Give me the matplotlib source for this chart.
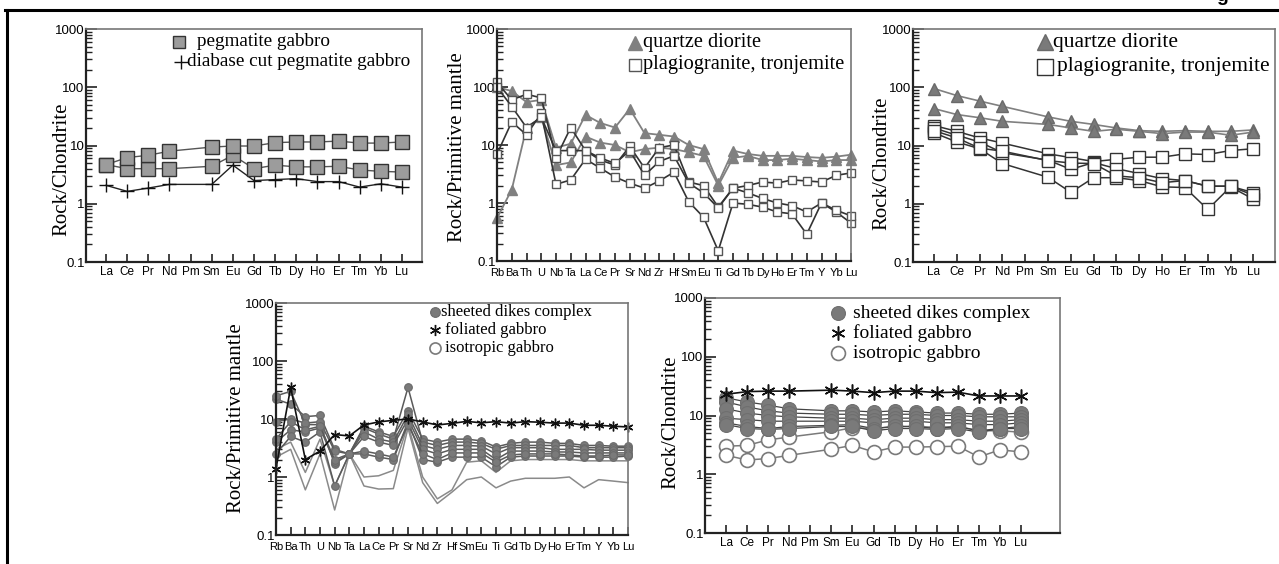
import matplotlib
matplotlib.use("Agg")
import matplotlib.pyplot as plt
from matplotlib.lines import Line2D

W, H = 1279, 564

# ---- element lists ----
ree = ["La", "Ce", "Pr", "Nd", "Pm", "Sm", "Eu", "Gd", "Tb", "Dy", "Ho", "Er", "Tm", "Yb", "Lu"]
spider = ["Rb", "Ba", "Th", "U", "Nb", "Ta", "La", "Ce", "Pr", "Sr", "Nd", "Zr", "Hf",
          "Sm", "Eu", "Ti", "Gd", "Tb", "Dy", "Ho", "Er", "Tm", "Y", "Yb", "Lu"]
ree_x = [i for i, e in enumerate(ree) if e != "Pm"]   # Pm has no data

# ---- panel 1: pegmatite gabbro (chondrite normalised, no Pm) ----
peg_gabbro_1 = [4.7, 6.2, 6.8, 8.0, 9.4, 9.8, 9.8, 11.2, 11.5, 11.5, 11.9, 11.0, 11.0, 11.5]
peg_gabbro_2 = [4.7, 4.0, 4.0, 4.0, 4.4, 6.8, 4.0, 4.6, 4.3, 4.3, 4.4, 3.8, 3.6, 3.5]
diabase_cut = [2.07, 1.63, 1.86, 2.15, 2.15, 4.6, 2.5, 2.6, 2.7, 2.4, 2.4, 1.93, 2.2, 1.93]

# ---- panel 2: quartz diorite / plagiogranite (primitive mantle) ----
qd_pm_1 = [100, 85, 55, 60, 9, 10.5, 33, 24, 20, 42, 16, 15, 14, 10, 8.5, 2.2, 8, 7, 6.5, 6.5, 6.5, 6.2, 6, 6.3, 6.8]
qd_pm_2 = [0.55, 1.7, 20, 30, 4.5, 5, 14, 11, 10, 7.5, 8.5, 9, 8.5, 7.5, 6.5, 2.0, 6, 6.5, 5.5, 5.5, 5.8, 5.5, 5.2, 5.5, 5.5]
pg_pm_1 = [120, 60, 75, 65, 6, 20, 8, 5.5, 4.5, 9.5, 4, 9, 10, 2.3, 2.0, 0.85, 1.8, 2.0, 2.3, 2.2, 2.5, 2.4, 2.3, 3.0, 3.3]
pg_pm_2 = [7, 25, 15, 35, 2.1, 2.5, 5.7, 4, 2.8, 2.2, 1.8, 2.4, 3.4, 1.05, 0.57, 0.15, 1.0, 0.95, 0.85, 0.7, 0.65, 0.29, 1.0, 0.7, 0.45]
pg_pm_3 = [100, 46, 20, 30, 8, 8, 8, 6, 4.8, 8, 3, 5.2, 6.5, 2.2, 1.5, 0.82, 1.8, 1.5, 1.2, 1.0, 0.9, 0.7, 1.0, 0.75, 0.6]

# ---- panel 3: quartz diorite / plagiogranite (chondrite) ----
qd_ch_1 = [95, 72, 58, 47, 31, 26, 23, 20, 18, 17.5, 18, 17.5, 17.5, 18.5]
qd_ch_2 = [43, 34, 30, 26, 23, 20, 17.5, 19, 17.5, 16, 17, 17, 15, 17]
pg_ch_1 = [22, 17.5, 13.5, 11, 7.2, 6.2, 5.3, 5.8, 6.3, 6.3, 7.2, 7.0, 8.2, 8.8]
pg_ch_2 = [16.5, 11.5, 8.8, 4.9, 2.85, 1.57, 2.8, 2.8, 2.5, 1.95, 1.9, 0.8, 1.95, 1.2]
pg_ch_3 = [20, 15, 11.5, 7.5, 5.6, 3.9, 5.1, 4.0, 3.3, 2.7, 2.5, 2.0, 2.0, 1.55]
pg_ch_4 = [18, 13.5, 9.0, 8.0, 5.5, 5.0, 4.9, 3.0, 2.8, 2.3, 2.5, 2.0, 2.0, 1.4]

# ---- panel 4: sheeted dikes / gabbros (primitive mantle) ----
fol_pm = [1.4, 35, 2.0, 2.8, 5.4, 5.1, 7.9, 8.9, 9.5, 10, 8.9, 7.9, 8.4, 9.1, 8.6, 9.0, 8.5, 9.0, 8.8, 8.5, 8.5, 7.8, 7.8, 7.5, 7.3]
dike_pm_1 = [22, 18, 11, 11.5, 3, 2.5, 7.5, 6, 5, 14, 4.5, 4, 4.5, 4.5, 4.2, 3.3, 3.8, 4, 4, 3.8, 3.8, 3.5, 3.5, 3.4, 3.4]
dike_pm_2 = [25, 30, 8, 8, 1.7, 2.5, 7, 5.5, 4.5, 35, 4, 3.5, 4, 4, 3.8, 3, 3.5, 3.5, 3.5, 3.5, 3.5, 3.2, 3.2, 3.2, 3.2]
dike_pm_3 = [9, 10, 8.5, 9, 2.8, 2.5, 6, 4.5, 4, 12, 3.5, 3, 3.5, 3.5, 3.4, 2.5, 3.2, 3.2, 3.2, 3.0, 3.0, 3.0, 2.9, 2.9, 2.9]
dike_pm_4 = [4, 6.5, 6, 7, 1.8, 2.5, 5, 4, 3.5, 10, 3, 2.5, 3, 3, 3, 2, 2.8, 2.8, 2.8, 2.7, 2.7, 2.6, 2.6, 2.6, 2.6]
dike_pm_5 = [2.5, 5, 4, 6, 0.7, 2.5, 2.5, 2.2, 2, 9, 2, 1.8, 2.2, 2.2, 2.2, 1.5, 2.2, 2.3, 2.3, 2.3, 2.3, 2.2, 2.2, 2.2, 2.3]
dike_pm_6 = [4.5, 9, 6.5, 7.5, 2, 2.5, 2.8, 2.5, 2.2, 8, 2.5, 2, 2.6, 2.6, 2.6, 1.8, 2.4, 2.5, 2.5, 2.5, 2.4, 2.3, 2.3, 2.4, 2.4]
iso_pm_1 = [2.2, 3, 0.6, 2.5, 0.27, 2.5, 0.7, 0.62, 0.63, 7, 0.8, 0.35, 0.55, 0.9, 1.0, 0.65, 0.85, 0.95, 0.95, 0.95, 1.0, 0.65, 0.9, 0.85, 0.8]
iso_pm_2 = [3, 4, 1.2, 4.5, 0.7, 2.5, 1.0, 1.05, 1.3, 8, 1.0, 0.42, 0.6, 1.8, 1.9, 1.2, 1.9, 2, 2, 2.0, 2, 1.9, 1.9, 1.9, 1.9]

# ---- panel 5: sheeted dikes / gabbros (chondrite) ----
fol_ch = [23, 25.5, 26, 26, 27, 26, 24.5, 26, 26, 24.5, 25, 21.5, 21.5, 21.5]
dike_ch_1 = [20, 17, 15, 13, 12, 12, 11.5, 12, 11.5, 11, 11, 10.5, 10.5, 11]
dike_ch_2 = [17, 14, 12, 11, 10.5, 10.5, 10, 10.5, 10.5, 10, 10, 9.5, 9.5, 9.5]
dike_ch_3 = [13, 11, 10, 9.5, 9, 9, 8.5, 9, 9, 8.5, 8.5, 8, 8, 8.5]
dike_ch_4 = [9, 8.5, 8, 8, 8, 8, 7.5, 8, 8, 7.5, 7.5, 7, 7, 7.5]
dike_ch_5 = [7.5, 6.5, 6, 6.5, 6.8, 7, 6, 6.5, 6.5, 6, 6.5, 5.5, 6, 6.5]
dike_ch_6 = [7, 6, 5.8, 6, 6.5, 6.5, 5.5, 6, 6, 5.8, 6, 5.2, 6, 6]
iso_ch_1 = [3.0, 3.1, 3.85, 4.3, 5.3, 6.2, 6.0, 6.5, 6.5, 6.3, 6.5, 5.5, 5.5, 5.2]
iso_ch_2 = [2.1, 1.75, 1.85, 2.1, 2.67, 3.1, 2.4, 2.9, 2.9, 2.95, 3.0, 1.97, 2.6, 2.4]

SERIF = ["Liberation Serif", "DejaVu Serif"]
SANS = ["Liberation Sans", "DejaVu Sans"]
DARK = "#222222"


def px_axes(fig, left, top, right, bottom):
    return fig.add_axes([left / W, 1 - bottom / H, (right - left) / W, (bottom - top) / H])


def style_axes(ax, labels, xlim, ylabel, label_xy, tick_size, xpad=3):
    ax.set_yscale("log")
    ax.set_ylim(0.1, 1000)
    ax.set_xlim(*xlim)
    ax.set_yticks([0.1, 1, 10, 100, 1000])
    ax.set_yticklabels(["0.1", "1", "10", "100", "1000"], family=SANS, fontsize=9.5)
    ax.set_xticks(range(len(labels)))
    ax.set_xticklabels(labels, family=SANS, fontsize=tick_size)
    ax.tick_params(axis="y", which="major", direction="in", length=8, width=1.2, color=DARK, pad=1)
    ax.tick_params(axis="y", which="minor", direction="in", length=4, width=1.0, color=DARK)
    ax.tick_params(axis="x", which="major", direction="in", length=6, width=1.2, color=DARK, pad=xpad)
    ax.tick_params(axis="x", which="minor", bottom=False)
    for side in ("left", "bottom"):
        ax.spines[side].set_color(DARK)
        ax.spines[side].set_linewidth(1.6)
    for side in ("top", "right"):
        ax.spines[side].set_color("#777777")
        ax.spines[side].set_linewidth(1.2)
    ax.set_ylabel(ylabel, family=SERIF, fontsize=15)
    ax.yaxis.set_label_coords(*label_xy)


def legend_rows(ax, rows, size):
    # rows: (marker kwargs, label, marker x, text x, y) in page pixels
    for mk, text, mx, tx, y in rows:
        ax.plot([mx / W], [1 - y / H], transform=fig.transFigure, ls="none",
                clip_on=False, **mk)
        ax.text(tx / W, 1 - y / H, text, transform=fig.transFigure, family=SERIF,
                fontsize=size, va="center", ha="left")


fig = plt.figure(figsize=(W / 100, H / 100), dpi=100)

# frame lines of the scanned page
fig.add_artist(Line2D([5 / W, 1], [1 - 10 / H, 1 - 10 / H], color="black", lw=2.2))
fig.add_artist(Line2D([7 / W, 7 / W], [1 - 10 / H, 0], color="black", lw=2.2))
fig.text(1222 / W, 1 - 1 / H, "g", family=SANS, fontsize=14, fontweight="bold",
         ha="center", va="baseline")

sq_grey = dict(marker="s", ms=10, mfc="#9c9c9c", mec="#333333", mew=1.0)
sq_open = dict(marker="s", ms=6, mfc="white", mec="#555555", mew=1.0)
sq_open_big = dict(marker="s", ms=9, mfc="white", mec="#333333", mew=1.0)
tri = dict(marker="^", ms=6.5, mfc="#808080", mec="#808080", mew=1.0)
tri_big = dict(marker="^", ms=9, mfc="#7a7a7a", mec="#6a6a6a", mew=1.0)
plus = dict(marker="+", ms=10, mec="#111111", mew=1.0)
dot_small = dict(marker="o", ms=5.5, mfc="#7a7a7a", mec="#6a6a6a", mew=0.8)
dot_big = dict(marker="o", ms=10, mfc="#7a7a7a", mec="#6f6f6f", mew=0.8)
ring_big = dict(marker="o", ms=10, mfc="white", mec="#7a7a7a", mew=1.2)
star_small = dict(marker=(6, 2, 0), ms=7, mec="#111111", mew=1.0)
star_big = dict(marker=(6, 2, 0), ms=10, mec="#111111", mew=1.1)

xs = range(len(spider))

# ---------- panel 1 ----------
ax1 = px_axes(fig, 86, 29, 422, 262)
style_axes(ax1, ree, (-0.95, 14.95), "Rock/Chondrite", (-0.045, 0.40), 8.5)
ax1.plot(ree_x, diabase_cut, color="#222222", lw=1.0, clip_on=False, **plus)
for s in (peg_gabbro_2, peg_gabbro_1):
    ax1.plot(ree_x, s, color="#555555", lw=1.0, clip_on=False, **sq_grey)
legend_rows(ax1, [(dict(sq_grey, ms=9), "pegmatite gabbro", 179, 197, 42),
                  (plus, "diabase cut pegmatite gabbro", 181, 187, 62)], 13.8)

# ---------- panel 2 ----------
ax2 = px_axes(fig, 497, 29, 851, 261)
style_axes(ax2, spider, (0, 24), "Rock/Primitive mantle", (-0.085, 0.49), 8, xpad=5)
for s in (qd_pm_1, qd_pm_2):
    ax2.plot(xs, s, color="#808080", lw=1.3, clip_on=False, **tri)
for s in (pg_pm_1, pg_pm_2, pg_pm_3):
    ax2.plot(xs, s, color="#333333", lw=1.2, clip_on=False, **sq_open)
legend_rows(ax2, [(dict(tri, ms=10), "quartze diorite", 635, 643, 43),
                  (dict(sq_open, ms=9), "plagiogranite, tronjemite", 635, 643, 65)], 14.7)

# ---------- panel 3 ----------
ax3 = px_axes(fig, 913, 29, 1275, 262)
style_axes(ax3, ree, (-0.92, 14.95), "Rock/Chondrite", (-0.061, 0.425), 8.5)
for s in (qd_ch_1, qd_ch_2):
    ax3.plot(ree_x, s, color="#808080", lw=1.2, clip_on=False, **tri_big)
for s in (pg_ch_1, pg_ch_2, pg_ch_3, pg_ch_4):
    ax3.plot(ree_x, s, color="#333333", lw=1.1, clip_on=False, **sq_open_big)
legend_rows(ax3, [(dict(tri_big, ms=11), "quartze diorite", 1045, 1053, 42),
                  (dict(sq_open_big, ms=11), "plagiogranite, tronjemite", 1045, 1057, 67)], 15.5)

# ---------- panel 4 ----------
ax4 = px_axes(fig, 276, 303, 628, 535)
style_axes(ax4, spider, (0, 24), "Rock/Primitive mantle", (-0.085, 0.504), 8, xpad=5)
for s in (iso_pm_1, iso_pm_2):
    ax4.plot(xs, s, color="#8a8a8a", lw=1.1, clip_on=False)
for s in (dike_pm_1, dike_pm_2, dike_pm_3, dike_pm_4, dike_pm_5, dike_pm_6):
    ax4.plot(xs, s, color="#5a5a5a", lw=1.1, clip_on=False, **dot_small)
ax4.plot(xs, fol_pm, color="#111111", lw=1.2, clip_on=False, **star_small)
legend_rows(ax4, [(dict(dot_small, ms=7), "sheeted dikes complex", 435, 441, 312),
                  (dict(star_small, ms=8), "foliated gabbro", 435, 445, 330),
                  (dict(ring_big, ms=8), "isotropic gabbro", 435, 445, 348)], 12)

# ---------- panel 5 ----------
ax5 = px_axes(fig, 705, 298, 1060, 533)
style_axes(ax5, ree, (-1.0, 15.85), "Rock/Chondrite", (-0.068, 0.47), 8.5)
for s in (iso_ch_1, iso_ch_2):
    ax5.plot(ree_x, s, color="#7a7a7a", lw=1.1, clip_on=False, **ring_big)
for s in (dike_ch_1, dike_ch_2, dike_ch_3, dike_ch_4, dike_ch_5, dike_ch_6):
    ax5.plot(ree_x, s, color="#444444", lw=0.9, clip_on=False, **dot_big)
ax5.plot(ree_x, fol_ch, color="#111111", lw=1.2, clip_on=False, **star_big)
legend_rows(ax5, [(dot_big, "sheeted dikes complex", 838, 853, 313),
                  (star_big, "foliated gabbro", 838, 853, 333),
                  (ring_big, "isotropic gabbro", 838, 853, 353)], 14)

fig.savefig("out.png", dpi=100)
